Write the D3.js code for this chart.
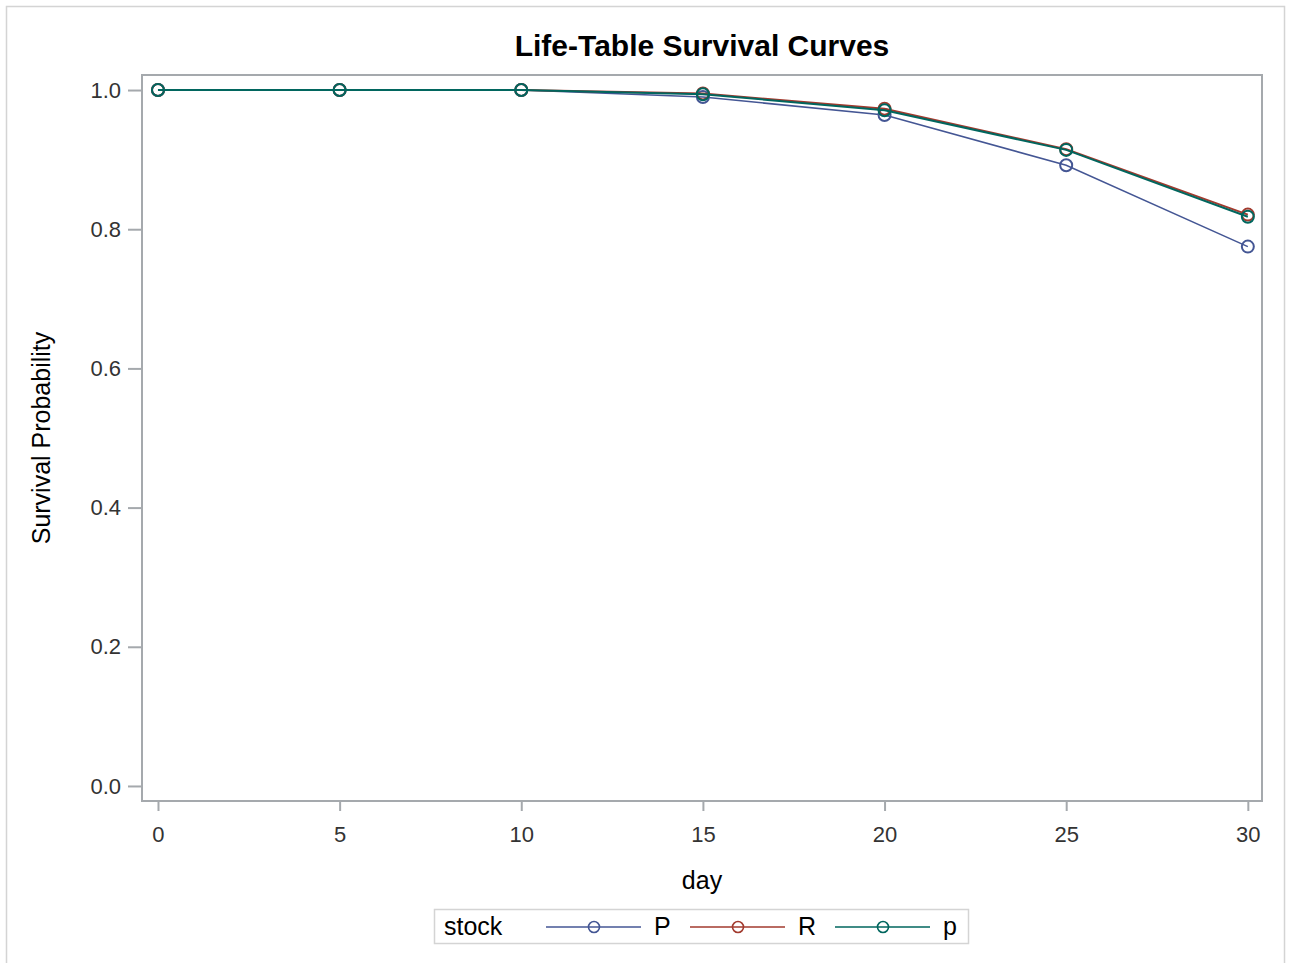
<!DOCTYPE html>
<html>
<head>
<meta charset="utf-8">
<script src="https://cdn.jsdelivr.net/npm/d3@7"></script>
<style>
  body { margin: 0; background: #fff; }
  text { font-family: "Liberation Sans", Arial, sans-serif; }
</style>
</head>
<body>
<div id="chart"></div>
<script>
const days = [0, 5, 10, 15, 20, 25, 30]
const stocks = ["P", "R", "p"]
const survP = [1, 1, 1, 0.990, 0.964, 0.892, 0.775]
const survR = [1, 1, 1, 0.995, 0.973, 0.915, 0.821]
const survLower = [1, 1, 1, 0.994, 0.971, 0.914, 0.818]
const yTicks = [0, 0.2, 0.4, 0.6, 0.8, 1.0]
const xTicks = [0, 5, 10, 15, 20, 25, 30]
const colors = ["#445694", "#A23A2E", "#01665E"]

const width = 1291, height = 963
const margin = ({top: 75, right: 29, bottom: 162, left: 142})
const frameColor = "#a5a9ad"

const series = [survP, survR, survLower].map((vals, i) => ({
    name: stocks[i],
    color: colors[i],
    points: vals.map((v, j) => ({day: days[j], value: v}))
}))

const x = d3.scaleLinear()
    .domain([-0.44, 30.39])
    .range([margin.left, width - margin.right])
const y = d3.scaleLinear()
    .domain([-0.0216, 1.0216])
    .range([height - margin.bottom, margin.top])

const svg = d3.select("#chart").append("svg")
    .attr("width", width)
    .attr("height", height)

// outer frame
svg.append("rect")
    .attr("x", 6.5).attr("y", 6.5)
    .attr("width", 1278).attr("height", 970)
    .attr("fill", "none")
    .attr("stroke", "#d4d4d4")
    .attr("stroke-width", 1.5)

svg.append("text")
    .attr("x", 702).attr("y", 56)
    .attr("text-anchor", "middle")
    .style("font-size", "30px")
    .attr("font-weight", "bold")
    .attr("fill", "#000")
    .text("Life-Table Survival Curves")

const xAxis = g => g
    .attr("transform", `translate(0,${height - margin.bottom})`)
    .call(d3.axisBottom(x).tickValues(xTicks).tickSize(10).tickPadding(15))
    .call(g => g.select(".domain").remove())
    .call(g => g.selectAll(".tick line").attr("stroke", frameColor).attr("stroke-width", 2))
    .call(g => g.selectAll(".tick text").attr("fill", "#333").style("font-size", "22px"))

const yAxis = g => g
    .attr("transform", `translate(${margin.left},0)`)
    .call(d3.axisLeft(y).tickValues(yTicks).tickFormat(d3.format(".1f")).tickSize(14).tickPadding(7))
    .call(g => g.select(".domain").remove())
    .call(g => g.selectAll(".tick line").attr("stroke", frameColor).attr("stroke-width", 2))
    .call(g => g.selectAll(".tick text").attr("fill", "#333").style("font-size", "22px"))

svg.append("g").call(xAxis)
svg.append("g").call(yAxis)

// plot frame
svg.append("rect")
    .attr("x", margin.left).attr("y", margin.top)
    .attr("width", width - margin.right - margin.left)
    .attr("height", height - margin.bottom - margin.top)
    .attr("fill", "none")
    .attr("stroke", frameColor)
    .attr("stroke-width", 2)

svg.append("text")
    .attr("transform", `translate(50,${(margin.top + height - margin.bottom) / 2}) rotate(-90)`)
    .attr("text-anchor", "middle")
    .style("font-size", "25px")
    .attr("fill", "#000")
    .text("Survival Probability")

svg.append("text")
    .attr("x", 702).attr("y", 889)
    .attr("text-anchor", "middle")
    .style("font-size", "25px")
    .attr("fill", "#000")
    .text("day")

const line = d3.line()
    .x(d => x(d.day))
    .y(d => y(d.value))

const curves = svg.append("g")
series.forEach((s, i) => {
    curves.append("path")
        .datum(s.points)
        .attr("fill", "none")
        .attr("stroke", s.color)
        .attr("stroke-width", i == 0 ? 1.5 : 2)
        .attr("d", line)
    curves.selectAll(null)
        .data(s.points)
        .join("circle")
        .attr("cx", d => x(d.day))
        .attr("cy", d => y(d.value))
        .attr("r", 6)
        .attr("fill", "none")
        .attr("stroke", s.color)
        .attr("stroke-width", 2)
})

// legend
const legend = svg.append("g")
legend.append("rect")
    .attr("x", 434.5).attr("y", 909.5)
    .attr("width", 534).attr("height", 34)
    .attr("fill", "#fff")
    .attr("stroke", "#d4d4d4")
    .attr("stroke-width", 1.5)
legend.append("text")
    .attr("x", 444).attr("y", 935)
    .style("font-size", "25px")
    .attr("fill", "#000")
    .text("stock")
const legendX = [546, 690, 835]
series.forEach((s, i) => {
    const lx = legendX[i]
    legend.append("line")
        .attr("x1", lx).attr("x2", lx + 95)
        .attr("y1", 927).attr("y2", 927)
        .attr("stroke", s.color)
        .attr("stroke-width", 1.6)
    legend.append("circle")
        .attr("cx", lx + 48).attr("cy", 927)
        .attr("r", 5.5)
        .attr("fill", "none")
        .attr("stroke", s.color)
        .attr("stroke-width", 1.6)
    legend.append("text")
        .attr("x", lx + 108).attr("y", 935)
        .style("font-size", "25px")
        .attr("fill", "#000")
        .text(s.name)
})
</script>
</body>
</html>
